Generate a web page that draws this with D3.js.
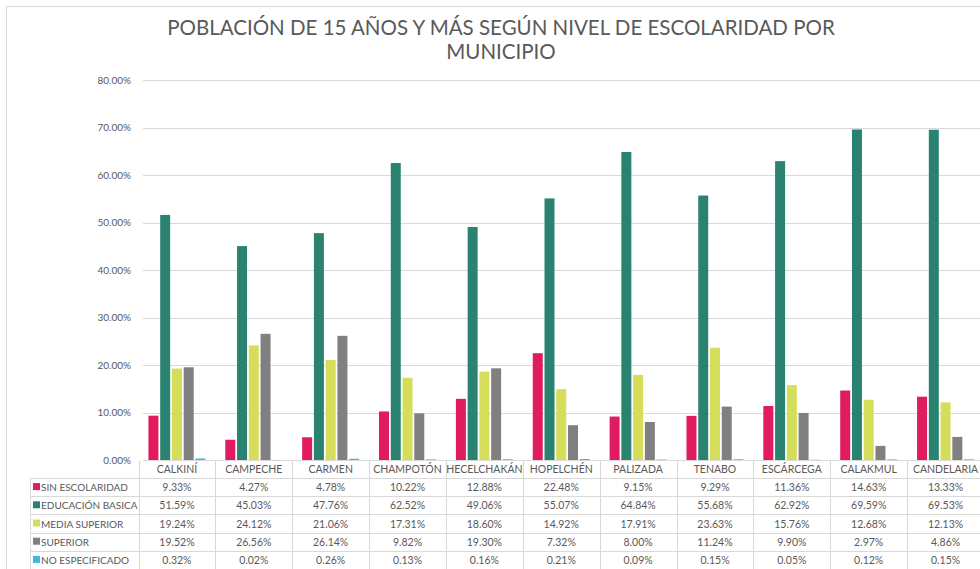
<!DOCTYPE html>
<html>
<head>
<meta charset="utf-8">
<script src="https://cdn.jsdelivr.net/npm/d3@7"></script>
<style>
  body { margin: 0; background: #fff; }
  svg { display: block; font-family: Lato, "Open Sans", sans-serif; }
</style>
</head>
<body>
<svg id="chart" width="980" height="569"></svg>
<script>
// municipios
const categories = ['CALKINÍ', 'CAMPECHE', 'CARMEN', 'CHAMPOTÓN', 'HECELCHAKÁN', 'HOPELCHÉN', 'PALIZADA', 'TENABO', 'ESCÁRCEGA', 'CALAKMUL', 'CANDELARIA']
const seriesNames = ['SIN ESCOLARIDAD', 'EDUCACIÓN BASICA', 'MEDIA SUPERIOR', 'SUPERIOR', 'NO ESPECIFICADO']
const seriesColors = ['#e01b5f', '#2a8270', '#d5dd5a', '#808080', '#3cbadb']

const sinEscolaridad = [9.33, 4.27, 4.78, 10.22, 12.88, 22.48, 9.15, 9.29, 11.36, 14.63, 13.33]
const educacionBasica = [51.59, 45.03, 47.76, 62.52, 49.06, 55.07, 64.84, 55.68, 62.92, 69.59, 69.53]
const mediaSuperior = [19.24, 24.12, 21.06, 17.31, 18.60, 14.92, 17.91, 23.63, 15.76, 12.68, 12.13]
const superior = [19.52, 26.56, 26.14, 9.82, 19.30, 7.32, 8.00, 11.24, 9.90, 2.97, 4.86]
const noEspecificado = [0.32, 0.02, 0.26, 0.13, 0.16, 0.21, 0.09, 0.15, 0.05, 0.12, 0.15]

const seriesValues = [sinEscolaridad, educacionBasica, mediaSuperior, superior, noEspecificado]
const yTicks = [0, 10, 20, 30, 40, 50, 60, 70, 80]

const svg = d3.select('#chart')
const textColor = '#595959'
const lineColor = '#d9d9d9'

// chart frame
svg.append('rect')
    .attr('x', 6.5).attr('y', 6.5)
    .attr('width', 1000).attr('height', 600)
    .attr('fill', 'none').attr('stroke', '#d9d9d9')

// title
const title = svg.append('text')
    .attr('text-anchor', 'middle')
    .attr('fill', textColor)
    .style('font-size', '20.5px')
title.append('tspan').attr('x', 501).attr('y', 35)
    .text('POBLACIÓN DE 15 AÑOS Y MÁS SEGÚN NIVEL DE ESCOLARIDAD POR')
title.append('tspan').attr('x', 501).attr('y', 59)
    .text('MUNICIPIO')

const x0 = d3.scaleBand().domain(categories).range([138.5, 984]).padding(0)
const groupWidth = 57
const x1 = d3.scaleBand().domain(seriesNames).range([0, groupWidth]).paddingInner(0.15)
const y = d3.scaleLinear().domain([0, 80]).range([460, 80])

// grid
svg.append('g')
    .selectAll('line')
    .data(yTicks)
    .join('line')
    .attr('x1', 143).attr('x2', 984)
    .attr('y1', d => Math.round(y(d)) + 0.5)
    .attr('y2', d => Math.round(y(d)) + 0.5)
    .attr('stroke', lineColor)

// y axis labels
svg.append('g')
    .selectAll('text')
    .data(yTicks)
    .join('text')
    .attr('x', 131)
    .attr('y', d => y(d) + 3.5)
    .attr('text-anchor', 'end')
    .attr('fill', textColor)
    .style('font-size', '10px')
    .text(d => d.toFixed(2) + '%')

// bars
const groups = svg.append('g')
    .selectAll('g')
    .data(categories)
    .join('g')
    .attr('transform', d => `translate(${x0(d) + (x0.bandwidth() - groupWidth) / 2},0)`)

groups.selectAll('rect')
    .data((c, i) => seriesNames.map((s, j) => ({ s, j, v: seriesValues[j][i] })))
    .join('rect')
    .attr('x', d => x1(d.s))
    .attr('width', x1.bandwidth())
    .attr('y', d => y(d.v))
    .attr('height', d => y(0) - y(d.v))
    .attr('fill', d => seriesColors[d.j])

// data table
const headerTop = 460
const headerBottom = 478
const rowH = 18.2
const tableLeft = 30
const table = svg.append('g')

seriesNames.forEach((s, j) => {
    const top = headerBottom + j * rowH
    table.append('line')
        .attr('x1', tableLeft).attr('x2', 984)
        .attr('y1', Math.round(top) + 0.5).attr('y2', Math.round(top) + 0.5)
        .attr('stroke', lineColor)
    table.append('rect')
        .attr('x', 33).attr('y', top + rowH / 2 - 4)
        .attr('width', 7).attr('height', 7)
        .attr('fill', seriesColors[j])
    table.append('text')
        .attr('x', 41).attr('y', top + rowH / 2 + 4)
        .attr('fill', textColor)
        .style('font-size', '10px')
        .text(s)
    categories.forEach((c, i) => {
        table.append('text')
            .attr('x', x0(c) + x0.bandwidth() / 2)
            .attr('y', top + rowH / 2 + 4)
            .attr('text-anchor', 'middle')
            .attr('fill', textColor)
            .style('font-size', '10.5px')
            .text(seriesValues[j][i].toFixed(2) + '%')
    })
})

// vertical table lines
table.append('line')
    .attr('x1', tableLeft + 0.5).attr('x2', tableLeft + 0.5)
    .attr('y1', headerBottom).attr('y2', 569)
    .attr('stroke', lineColor)
categories.forEach(c => {
    const xv = Math.round(x0(c)) + 0.5
    table.append('line')
        .attr('x1', xv).attr('x2', xv)
        .attr('y1', headerTop).attr('y2', 569)
        .attr('stroke', lineColor)
})

// header labels
table.selectAll('.cat')
    .data(categories)
    .join('text')
    .attr('class', 'cat')
    .attr('x', d => x0(d) + x0.bandwidth() / 2)
    .attr('y', headerTop + 13)
    .attr('text-anchor', 'middle')
    .attr('fill', textColor)
    .style('font-size', '10.5px')
    .text(d => d)
</script>
</body>
</html>
